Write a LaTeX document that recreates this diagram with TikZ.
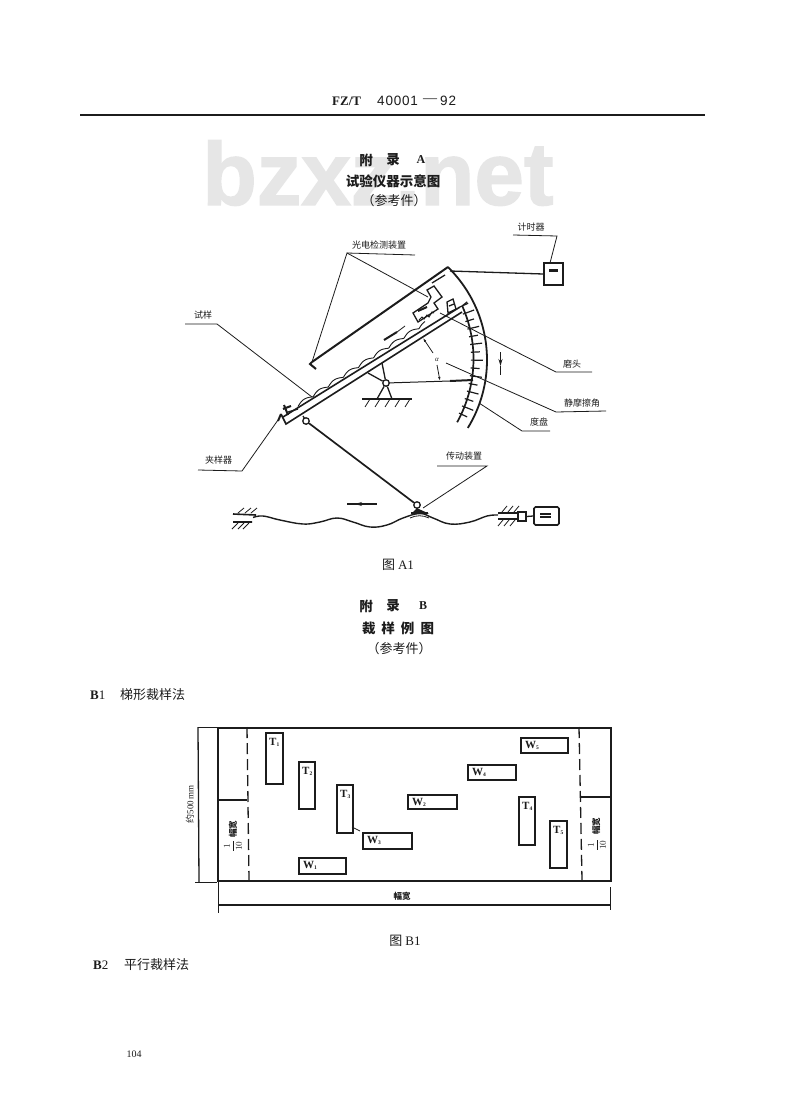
\documentclass[tikz,border=0pt]{standalone}
\usepackage{fontspec}
\setmainfont{Liberation Serif}
\newfontfamily\cjk{Noto Sans CJK SC}
\newfontfamily\wmfont[BoldFeatures={FakeBold=1.6}]{Liberation Sans}
\newfontfamily\hdfont[LetterSpace=6]{Liberation Sans}
\usetikzlibrary{arrows.meta}
\definecolor{ink}{HTML}{1C1C1C}
\definecolor{wm}{HTML}{E6E6E6}
\newcommand{\fs}[1]{\fontsize{#1}{#1}\selectfont}
\newcommand{\tsubs}[1]{\raisebox{-1.5pt}{\fs{5.5}#1}}
\tikzset{
  thinl/.style={draw=ink,line width=0.8pt},
  midl/.style={draw=ink,line width=1.3pt},
  thickl/.style={draw=ink,line width=2pt},
  lab/.style={text=ink,font=\cjk\fs{9},inner sep=0pt},
  ttl/.style={text=ink,font=\cjk\bfseries\fs{13.5},inner sep=0pt},
  body/.style={text=ink,font=\cjk\fs{13},inner sep=0pt},
  samplerect/.style={draw=ink,line width=1.7pt,anchor=north west,inner sep=0pt},
  tag/.style={text=ink,font=\bfseries\fs{11},anchor=north west,inner sep=0pt,xshift=4pt,yshift=-6pt},
  wtag/.style={text=ink,font=\bfseries\fs{11},anchor=north west,inner sep=0pt,xshift=5pt,yshift=-4pt},
  roundpin/.style={circle,draw=ink,line width=1.3pt,fill=white,minimum size=6.5pt,inner sep=0pt},
}
\begin{document}
\begin{tikzpicture}[x=1pt,y=-1pt]
\useasboundingbox (0,0) rectangle (800,1110);
\fill[white] (0,0) rectangle (800,1110);
% watermark
\node[text=wm,font=\wmfont\bfseries\fs{89},inner sep=0pt] (wmark) at (378,173) {bzxz.net};
% header
\node[text=ink,inner sep=0pt,anchor=west] (hd1) at (332,101) {\fs{13}\bfseries FZ/T};
\node[text=ink,inner sep=0pt,anchor=west] (hd2) at (377,101) {\hdfont\fs{13.5}40001};
\node[text=ink,inner sep=0pt,anchor=west] (hd3) at (423,101) {\fs{14}—};
\node[text=ink,inner sep=0pt,anchor=west] (hd4) at (440,101) {\hdfont\fs{13.5}92};
\coordinate (ruleL) at (80,115); \coordinate (ruleR) at (705,115);
\draw[midl] (ruleL) -- (ruleR);
% titles A
\node[ttl] (a1) at (366,160) {附};
\node[ttl] (a2) at (393,160) {录};
\node[text=ink,font=\bfseries\fs{12},inner sep=0pt] (a3) at (421,160) {A};
\node[ttl] (a4) at (393,181) {试验仪器示意图};
\node[body] (a5) at (394,201) {（参考件）};
% ---- apparatus
\coordinate (sensA) at (347,253);
\coordinate (sensB) at (415,255);
\coordinate (sensTip) at (312,362);
\coordinate (headPt) at (428,297);
\coordinate (upEnd) at (448,267);
\node[lab,anchor=west] (lsens) at (352,245) {光电检测装置};
\draw[thinl] (sensA) -- (sensB);
\draw[thinl] (sensTip) -- (sensA) -- (headPt);
\draw[thickl] (sensTip) -- (upEnd);
\draw[thickl] (sensTip) -- (310,364) -- (316,369);
\draw[midl] (432,283) -- (445,275);
% plate
\coordinate (pl1) at (283,417); \coordinate (pl2) at (460,307);
\coordinate (pl3) at (286,424); \coordinate (pl4) at (462,312);
\draw[draw=ink,line width=1.6pt] (281,414) -- (pl3) -- (pl4);
\draw[draw=ink,line width=1.6pt] (pl1) -- (pl2);
% specimen bumps
\draw[draw=ink,line width=0.9pt] plot[domain=0:153,samples=180] ({298+0.84*\x-0.54*2.8*abs(sin(\x*10))},{406.5-0.54*\x-0.84*2.8*abs(sin(\x*10))});
% clamp
\draw[thickl] (284,405) -- (288,415) (283,409) -- (291,406);
\draw[midl] (288,412) -- (298,409);
\draw[thickl] (278,421) -- (281,414);
% head
\draw[midl,fill=white] (427,290) -- (434,286) -- (442,297) -- (434,303) -- (438,309) -- (418,322) -- (413,313) -- (428,303) -- (431,297) -- cycle;
\draw[thinl,line width=1pt] (419,320) -- (422,317) -- (424,319) -- (427,315) -- (429,317) -- (432,312) -- (434,313);
\draw[thickl] (418,311) -- (427,307);
\draw[midl] (447,302) -- (453,299) -- (456,309) -- (448,313) -- cycle (449,306) -- (454,304);
% slider arrow on plate
\draw[thickl] (384,340) -- (397,332);
\draw[thinl] (397,332) -- (405,326);
% stand
\node[roundpin] (pivot) at (386,383) {};
\coordinate (armA) at (382,363); \coordinate (armB) at (368,373);
\coordinate (legA) at (377,399); \coordinate (legB) at (392,399);
\coordinate (gndA) at (362,399); \coordinate (gndB) at (412,399);
\draw[midl] (armA) -- (pivot) (armB) -- (pivot) (legA) -- (pivot) (legB) -- (pivot);
\draw[draw=ink,line width=1.7pt] (gndA) -- (gndB);
\foreach \hx in {370,380,390,400,410} \draw[thinl] (\hx,399) -- (\hx-5,407);
% angle
\coordinate (scaleHit) at (473,380);
\draw[thinl,line width=1pt] (pivot) -- (450,381);
\draw[thickl] (450,381) -- (scaleHit);
\draw[thinl,-{Latex[length=4pt,width=2.5pt]}] (433,353) -- (423,338);
\draw[thinl,-{Latex[length=4pt,width=2.5pt]}] (437,365) -- (440,381);
\node[text=ink,font=\itshape\fs{7},inner sep=0pt] (alpha) at (437,360) {α};
% dials
\draw[draw=ink,line width=1.8pt] plot[domain=45.7:-31.5,samples=40,smooth] ({357+130*cos(\x)},{360-130*sin(\x)});
\draw[draw=ink,line width=1.7pt] plot[domain=24:-29,samples=30,smooth] ({343+130.5*cos(\x)},{359-130.5*sin(\x)});
\foreach \a [count=\i] in {24,20.5,...,-28} {
  \pgfmathsetmacro\tl{mod(\i,2)==0 ? 140 : 137}
  \draw[draw=ink,line width=1.2pt] ({343+128*cos(\a)},{359-128*sin(\a)}) -- ({343+\tl*cos(\a)},{359-\tl*sin(\a)});
}
\draw[midl] ({343+130.5*cos(24)},{359-130.5*sin(24)}) -- ++(5,-4);
\draw[midl,-{Stealth[length=7pt,width=4pt]}] (500.5,352) -- (500.5,366);
\draw[midl] (500.5,366) -- (500.5,375);
% timer
\node[draw=ink,line width=1.6pt,minimum width=19pt,minimum height=22pt,inner sep=0pt] (timer) at (553.5,274) {};
\node[fill=ink,minimum width=9pt,minimum height=3pt,inner sep=0pt] (timerw) at (553.5,270.5) {};
\draw[midl] (450,271) -- (timer.west);
\node[lab] (ltimer) at (531,227) {计时器};
\coordinate (tL) at (513,235); \coordinate (tR) at (557,236);
\draw[thinl] (tL) -- (tR) -- (550,263);
% leaders right
\node[lab,anchor=west] (lhead) at (563,364) {磨头};
\coordinate (hL) at (556,372); \coordinate (hR) at (592,372);
\draw[thinl] (440,313) -- (hL) -- (hR);
\node[lab,anchor=west] (lang) at (564,403) {静摩擦角};
\coordinate (aL) at (556,412); \coordinate (aR) at (606,411);
\draw[thinl] (446,363) -- (aL) -- (aR);
\node[lab,anchor=west] (ldial) at (530,422) {度盘};
\coordinate (dL) at (522,431); \coordinate (dR) at (550,431);
\draw[thinl] (479,403) -- (dL) -- (dR);
% leaders left
\node[lab,anchor=west] (lspec) at (194,315) {试样};
\coordinate (sL) at (185,324); \coordinate (sR) at (217,324);
\draw[thinl] (sL) -- (sR) -- (312,397);
\node[lab,anchor=west] (lclamp) at (205,460) {夹样器};
\coordinate (cL) at (198,470); \coordinate (cR) at (242,471);
\draw[thinl] (cL) -- (cR) -- (278,420);
% link
\draw[midl] (303,416) -- (306,421);
\node[roundpin] (pinA) at (306,421) {};
\node[roundpin] (pinB) at (417,505) {};
\draw[draw=ink,line width=1.7pt] (pinA) -- (pinB);
% cam base
\draw[midl,fill=ink] (pinB.south) -- (413,513) -- (426,513) -- cycle;
\draw[midl] (411,513) -- (428,513);
% wave
\draw[draw=ink,line width=1.4pt] plot[smooth,tension=0.7] coordinates {(253,517.5) (263,516) (280,520) (303,524) (320,522) (337,518) (353,522) (370,527) (387,525) (403,518) (420,513.5) (433,518) (450,524) (470,522) (487,516) (498,515)};
\draw[thinl] (410,518) .. controls (416,515) and (423,515) .. (429,518);
\draw[midl] (347,504) -- (377,504);
\draw[draw=ink,line width=1.6pt,-{Stealth[length=7pt,width=4pt]}] (368,504) -- (355,504);
% left bearing
\coordinate (blA) at (233,514); \coordinate (blB) at (256,515);
\coordinate (blC) at (233,522); \coordinate (blD) at (252,522);
\draw[draw=ink,line width=1.6pt] (blA) -- (blB) (blC) -- (blD);
\foreach \hx in {238,245,251} \draw[thinl] (\hx,513) -- (\hx+6,508);
\foreach \hx in {232,238,243} \draw[thinl] (\hx,529) -- (\hx+6,523);
% right bearing
\coordinate (brA) at (498,513); \coordinate (brB) at (518,513);
\coordinate (brC) at (498,519); \coordinate (brD) at (518,519);
\draw[midl] (brA) -- (brB) (brC) -- (brD);
\foreach \hx in {502,508,514} \draw[thinl] (\hx,512) -- (\hx+5,506);
\foreach \hx in {498,504,510} \draw[thinl] (\hx,526) -- (\hx+5,520);
\node[draw=ink,line width=1.3pt,minimum width=8pt,minimum height=9pt,inner sep=0pt] (collar) at (522,516.5) {};
\node[draw=ink,line width=1.6pt,rounded corners=1.5pt,minimum width=25pt,minimum height=18pt,inner sep=0pt] (motor) at (546.5,516) {};
\draw[midl] (collar.east) -- (motor.west);
\draw[midl] (540,514) -- (551,514) (540,517) -- (551,517);
\node[lab] (ldrive) at (464,456) {传动装置};
\coordinate (drL) at (437,466); \coordinate (drR) at (487,466);
\draw[thinl] (drL) -- (drR) -- (423,508);
% captions
\node[body] (capA) at (398,565) {图 \rmfamily A1};
\node[ttl] (b1) at (366,606) {附};
\node[ttl] (b2) at (393,606) {录};
\node[text=ink,font=\bfseries\fs{12},inner sep=0pt] (b3) at (423,606) {B};
\node[ttl] (b4) at (398,628) {裁\hspace{6pt}样\hspace{6pt}例\hspace{6pt}图};
\node[body] (b5) at (399,649) {（参考件）};
\node[text=ink,inner sep=0pt,anchor=west] (b6) at (90,695) {\fs{13}\bfseries B\mdseries 1};
\node[body,anchor=west] (b7) at (120,695) {梯形裁样法};
% ---- B1 plan
\node[draw=ink,line width=1.7pt,minimum width=393pt,minimum height=153pt,inner sep=0pt,anchor=north west] (field) at (217,727) {};
\draw[midl,dash pattern=on 11pt off 5pt] (247,727) -- (249,880);
\draw[midl,dash pattern=on 11pt off 5pt] (579,727) -- (582,880);
\draw[draw=ink,line width=1.6pt] (217,800) -- (247,800);
\draw[draw=ink,line width=1.6pt] (580,797) -- (610,797);
\node[text=ink,inner sep=0pt,rotate=90,font=\cjk\bfseries\fs{8.5}] (lfl) at (233,829) {幅宽};
\node[text=ink,inner sep=0pt,rotate=90] (ffl) at (233,846) {\fs{9}$\displaystyle\frac{1}{10}$};
\node[text=ink,inner sep=0pt,rotate=90,font=\cjk\bfseries\fs{8.5}] (lfr) at (596,826) {幅宽};
\node[text=ink,inner sep=0pt,rotate=90] (ffr) at (597,845) {\fs{9}$\displaystyle\frac{1}{10}$};
% rectangles
\node[samplerect,minimum width=17pt,minimum height=51pt] (T1) at (265,732) {};
\node[samplerect,minimum width=16pt,minimum height=47pt] (T2) at (298,761) {};
\node[samplerect,minimum width=16pt,minimum height=48pt] (T3) at (336,784) {};
\node[samplerect,minimum width=16pt,minimum height=48pt] (T4) at (518,796) {};
\node[samplerect,minimum width=17pt,minimum height=47pt] (T5) at (549,820) {};
\node[samplerect,minimum width=47pt,minimum height=16pt] (W1) at (298,857) {};
\node[samplerect,minimum width=49pt,minimum height=16pt] (W3) at (362,832) {};
\node[samplerect,minimum width=49pt,minimum height=14pt] (W2) at (407,794) {};
\node[samplerect,minimum width=48pt,minimum height=15pt] (W4) at (467,764) {};
\node[samplerect,minimum width=47pt,minimum height=15pt] (W5) at (520,737) {};
\node[tag] at (T1.north west) (T1t) {T\tsubs{1}};
\node[tag] at (T2.north west) (T2t) {T\tsubs{2}};
\node[tag] at (T3.north west) (T3t) {T\tsubs{3}};
\node[tag] at (T4.north west) (T4t) {T\tsubs{4}};
\node[tag] at (T5.north west) (T5t) {T\tsubs{5}};
\node[wtag] at (W1.north west) (W1t) {W\tsubs{1}};
\node[wtag] at (W3.north west) (W3t) {W\tsubs{3}};
\node[wtag] at (W2.north west) (W2t) {W\tsubs{2}};
\node[wtag] at (W4.north west) (W4t) {W\tsubs{4}};
\node[wtag] at (W5.north west) (W5t) {W\tsubs{5}};
\draw[thinl] (352,827) -- (360,831);
% dims
\coordinate (vT) at (198,727); \coordinate (vB) at (199,882);
\draw[midl] (vT) -- (vB);
\draw[thinl] (vT) -- (217,727) (195,882) -- (217,882);
\node[text=ink,inner sep=0pt,rotate=90] (l500) at (190,804) {\cjk\fs{9}约\rmfamily 500\,mm};
\coordinate (hA) at (218,905); \coordinate (hB) at (610,905);
\draw[midl] (hA) -- (hB);
\draw[thinl] (218,882) -- (218,913) (610,887) -- (610,910);
\node[lab,font=\cjk\bfseries\fs{8.5}] (lwd) at (402,896) {幅宽};
\node[body] (capB) at (405,941) {图 \rmfamily B1};
\node[text=ink,inner sep=0pt,anchor=west] (c6) at (93,965) {\fs{13}\bfseries B\mdseries 2};
\node[body,anchor=west] (c7) at (124,965) {平行裁样法};
\node[text=ink,inner sep=0pt] (page) at (134,1054) {\fs{10}104};
\end{tikzpicture}
\end{document}
